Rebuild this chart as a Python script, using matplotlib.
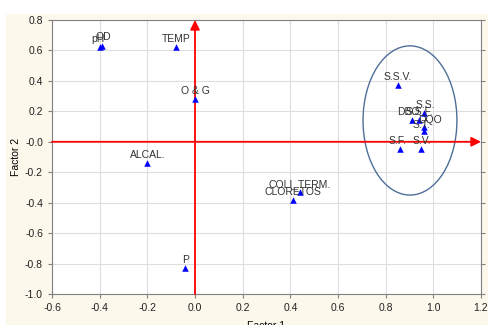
import matplotlib
matplotlib.use("Agg")
import matplotlib.pyplot as plt
from matplotlib.patches import Ellipse, Rectangle
import numpy as np

plt.rcParams['font.family'] = ['Liberation Sans', 'DejaVu Sans']

# cargas factoriales de cada variable
variables = ['pH', 'OD', 'TEMP', 'O & G', 'ALCAL.', 'P',
             'COLI_TERM.', 'CLORETOS', 'S.S.V.', 'S.S.', 'DBO',
             'S.S.F.', 'DQO', 'S.T.', 'S.F.', 'S.V.']
factor1 = [-0.40, -0.39, -0.08, 0.00, -0.20, -0.04,
           0.44, 0.41, 0.85, 0.96, 0.91,
           0.94, 0.96, 0.96, 0.86, 0.95]
factor2 = [0.62, 0.63, 0.62, 0.28, -0.14, -0.83,
           -0.33, -0.38, 0.37, 0.19, 0.14,
           0.14, 0.10, 0.07, -0.05, -0.05]

xticks = np.round(np.arange(-0.6, 1.21, 0.2), 1)
yticks = np.round(np.arange(-1.0, 0.81, 0.2), 1)

# pequenos corrimientos de etiquetas (pixeles)
nudge = {'pH': (-2, 0), 'OD': (1, 1), 'S.S.': (2, 0), 'DBO': (-4, 0),
         'DQO': (6, -1), 'S.T.': (-2, -2), 'S.F.': (-2, 0)}

fig = plt.figure(figsize=(4.88, 3.25), dpi=100)
fig.patch.set_facecolor('white')
fig.patches.append(Rectangle((6 / 488, 0), 1, 1 - 14 / 325, transform=fig.transFigure,
                             facecolor='#fdf8ec', edgecolor='none', zorder=-10))

ax = fig.add_axes([52 / 488, 31 / 325, 429 / 488, 274 / 325])
ax.set_facecolor('white')
ax.set_xlim(-0.6, 1.2)
ax.set_ylim(-1.0, 0.8)
ax.set_xticks(xticks)
ax.set_yticks(yticks)
ax.set_xticklabels([f'{t:.1f}' for t in xticks])
ax.set_yticklabels([f'{t:.1f}' for t in yticks])
ax.grid(True, color='#dddddd', linewidth=0.8)
ax.set_axisbelow(True)
for s in ax.spines.values():
    s.set_color('#808080')
ax.tick_params(labelsize=7.5, colors='#808080', labelcolor='#222222', length=3, width=0.8)
ax.tick_params(right=True, direction='out')

# ejes de referencia en rojo
ax.annotate('', xy=(1.2, 0), xytext=(-0.6, 0),
            arrowprops=dict(arrowstyle='-|>', color='red', lw=1.3, mutation_scale=14,
                            shrinkA=0, shrinkB=0))
ax.annotate('', xy=(0, 0.8), xytext=(0, -1.0),
            arrowprops=dict(arrowstyle='-|>', color='red', lw=1.3, mutation_scale=14,
                            shrinkA=0, shrinkB=0))

ax.add_patch(Ellipse((0.902, 0.14), 0.394, 0.98, fill=False,
                     edgecolor='#4f6f99', linewidth=1.0))

ax.scatter(factor1, factor2, marker='^', s=22, color='#0000ff', zorder=5, linewidths=0)
for name, x, y in zip(variables, factor1, factor2):
    dx, dy = nudge.get(name, (0, 0))
    ax.annotate(name, (x, y), xytext=(dx, 3 + dy), textcoords='offset pixels',
                ha='center', va='bottom', fontsize=7.5, color='#333333', zorder=6)

ax.set_xlabel('Factor 1', fontsize=7.5, labelpad=6)
ax.set_ylabel('Factor 2', fontsize=7.5, labelpad=3)

fig.savefig('out.png', dpi=100)
